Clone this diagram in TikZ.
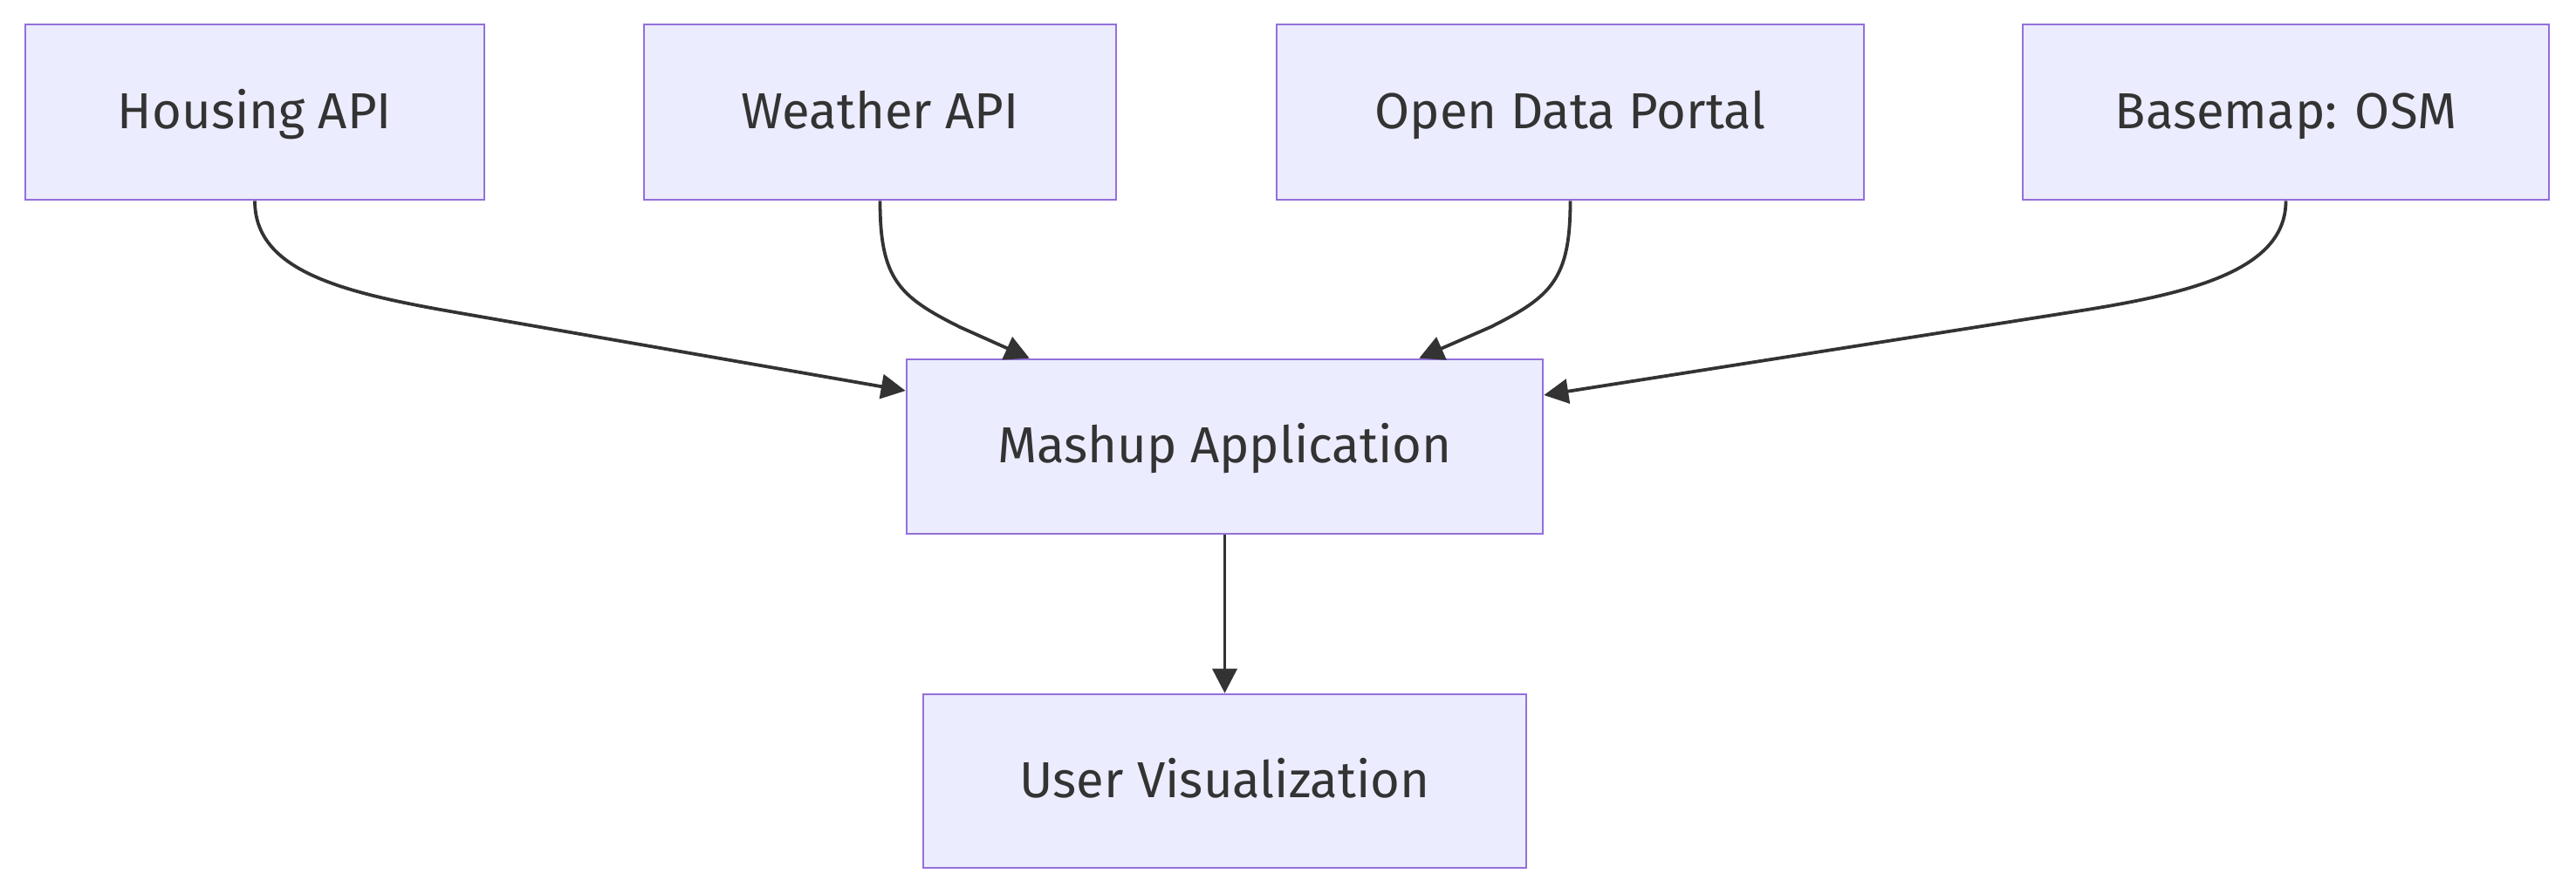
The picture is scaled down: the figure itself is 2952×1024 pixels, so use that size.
\documentclass[tikz,border=0pt]{standalone}
\usepackage{fontspec}
\setmainfont{Fira Sans}
\usetikzlibrary{arrows.meta,calc}
\definecolor{boxfill}{HTML}{ECECFF}
\definecolor{boxline}{HTML}{9370DB}
\definecolor{ink}{HTML}{333333}
\begin{document}
\begin{tikzpicture}[x=0.5pt,y=-0.5pt,
  box/.style={draw=boxline,fill=boxfill,line width=1.3pt,rectangle,inner sep=0pt,
    text=ink,font=\fontsize{29}{35}\selectfont,text height=24.5pt,text depth=6pt},
  flow/.style={draw=ink,line width=1.9pt,-{Triangle[length=14pt,width=14pt]}}]
\useasboundingbox (0,0) rectangle (2952,1024);
\node[box,minimum width=263pt,minimum height=100.5pt] (h) at (292,128.5) {Housing API};
\node[box,minimum width=270.5pt,minimum height=100.5pt] (w) at (1008.5,128.5) {Weather API};
\node[box,minimum width=336.5pt,minimum height=100.5pt] (o) at (1799.5,128.5) {Open Data Portal};
\node[box,minimum width=301.5pt,minimum height=100.5pt] (b) at (2619.5,128.5) {Basemap: OSM};
\node[box,minimum width=364.5pt,minimum height=100pt] (m) at (1403.5,512) {Mashup Application};
\node[box,minimum width=345.5pt,minimum height=99.5pt] (u) at (1403.5,895.5) {User Visualization};
\draw[flow] (h.south) .. controls (292,310) and (390,335) .. (520,357.7) -- ($(m.west)+(0,-64)$);
\draw[flow] (w.south) .. controls (1008.5,320) and (1030,340) .. (1100,375) -- ($(m.north west)+(142,0)$);
\draw[flow] (o.south) .. controls (1799.5,320) and (1778,340) .. (1708,375) -- ($(m.north east)+(-143,0)$);
\draw[flow] (b.south) .. controls (2619.5,310) and (2510,336.5) .. (2380,356.9) -- ($(m.east)+(0,-59)$);
\draw[flow] (m.south) -- (u.north);
\end{tikzpicture}
\end{document}
